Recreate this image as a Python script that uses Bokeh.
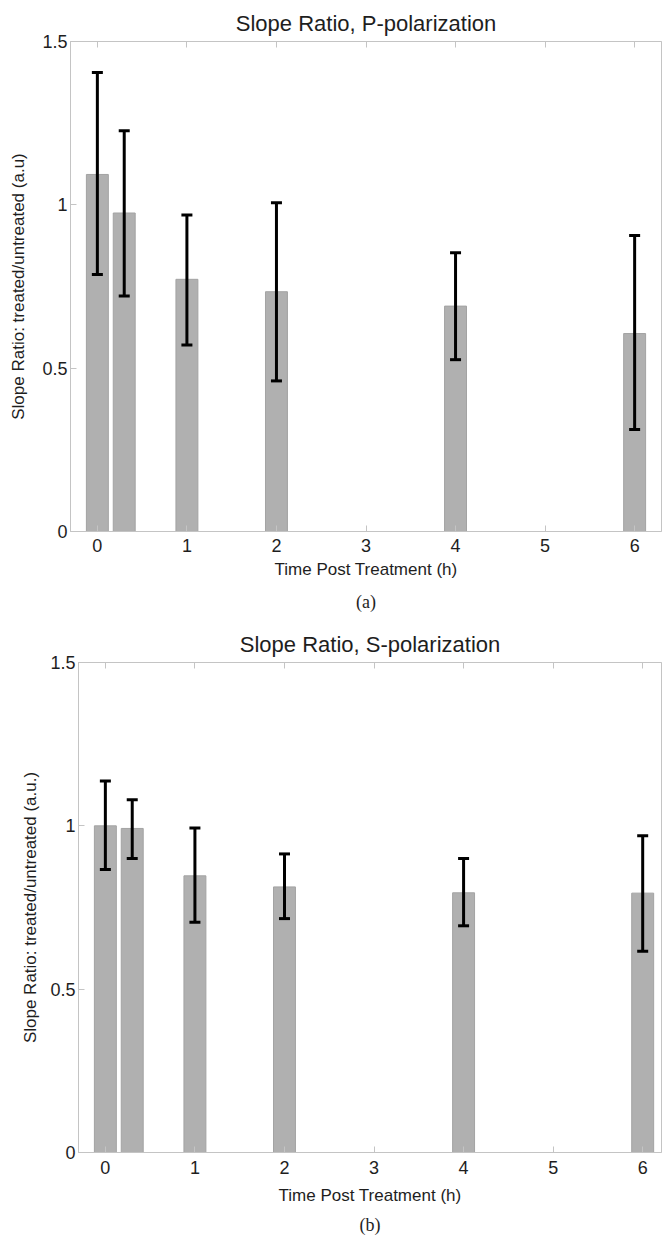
from bokeh.plotting import figure
from bokeh.models import (Range1d, ColumnDataSource, LinearAxis, Title,
                          FixedTicker, CustomJSTickFormatter)
from bokeh.embed import file_html
from bokeh.resources import INLINE

# ---- data ----
time_h = [0, 0.3, 1, 2, 4, 6]

p_mean = [1.093, 0.975, 0.772, 0.734, 0.690, 0.606]
p_upper = [1.405, 1.227, 0.969, 1.006, 0.853, 0.906]
p_lower = [0.787, 0.721, 0.571, 0.461, 0.526, 0.312]

s_mean = [1.000, 0.992, 0.847, 0.813, 0.795, 0.794]
s_upper = [1.137, 1.080, 0.993, 0.914, 0.900, 0.970]
s_lower = [0.866, 0.900, 0.705, 0.716, 0.694, 0.616]

x_ticks = [0, 1, 2, 3, 4, 5, 6]
y_ticks = [0, 0.5, 1, 1.5]
y_tick_labels = ["0", "0.5", "1", "1.5"]

FONT = "Liberation Sans"
TXT = "#1e1e1e"
AX = "#c4c4c4"


def panel(title, ylabel, caption, mean, upper, lower, left, x_end, height, top,
          ylab_standoff, tick_standoff, xlab_standoff, cap_standoff):
    p = figure(width=662, height=height,
               x_range=Range1d(-0.3, x_end), y_range=Range1d(0, 1.5),
               output_backend="svg", toolbar_location=None,
               min_border_left=left, min_border_right=1,
               min_border_top=top, min_border_bottom=height - top - 490)
    p.title.text = title
    p.title.align = "center"
    p.title.text_font = FONT
    p.title.text_font_size = "22px"
    p.title.text_font_style = "normal"
    p.title.text_color = TXT
    p.title.standoff = 12
    p.grid.visible = False
    p.outline_line_color = AX
    p.background_fill_color = "white"
    p.border_fill_color = "white"

    src = ColumnDataSource(dict(x=time_h, top=mean, up=upper, lo=lower))
    p.vbar(x="x", top="top", width=0.245, source=src, fill_color="#b0b0b0",
           line_color="#a3a3a3", line_width=1)
    p.segment(x0="x", y0="lo", x1="x", y1="up", source=src,
              line_color="black", line_width=3)
    p.dash(x="x", y="up", size=11, source=src, line_color="black", line_width=3)
    p.dash(x="x", y="lo", size=11, source=src, line_color="black", line_width=3)

    xa = p.xaxis[0]
    xa.ticker = FixedTicker(ticks=x_ticks)
    xa.axis_label = "Time Post Treatment (h)"
    ya = p.yaxis[0]
    ya.ticker = FixedTicker(ticks=y_ticks)
    ya.major_label_overrides = {t: l for t, l in zip(y_ticks, y_tick_labels)}
    ya.axis_label = ylabel
    for a in (xa, ya):
        a.axis_line_color = AX
        a.major_tick_line_color = AX
        a.major_tick_in = 6
        a.major_tick_out = 0
        a.minor_tick_line_color = None
        a.major_label_text_font = FONT
        a.major_label_text_font_size = "18px"
        a.major_label_text_color = TXT
        a.axis_label_text_font = FONT
        a.axis_label_text_font_size = "17px"
        a.axis_label_text_font_style = "normal"
        a.axis_label_text_color = TXT
    xa.major_label_standoff = tick_standoff
    xa.axis_label_standoff = xlab_standoff
    ya.major_label_standoff = 3
    ya.axis_label_standoff = ylab_standoff

    blank = CustomJSTickFormatter(code="return ''")
    ta = LinearAxis(ticker=FixedTicker(ticks=x_ticks), formatter=blank)
    ta.axis_line_color = AX
    ta.major_tick_line_color = AX
    ta.major_tick_in = 6
    ta.major_tick_out = 0
    ta.minor_tick_line_color = None
    ta.major_label_standoff = 0
    ta.major_label_text_font_size = "1px"
    p.add_layout(ta, "above")

    p.add_layout(Title(text=caption, align="center", text_font="Liberation Serif",
                       text_font_size="18px", text_font_style="normal",
                       standoff=cap_standoff, text_color=TXT), "below")
    return p


p1 = panel("Slope Ratio, P-polarization", "Slope Ratio: treated/untreated (a.u)", "(a)",
           p_mean, p_upper, p_lower, 70, 6.3, 622, 41, 11, 7, 5, 17)
p2 = panel("Slope Ratio, S-polarization", "Slope Ratio: treated/untreated (a.u.)", "(b)",
           s_mean, s_upper, s_lower, 78, 6.21, 619, 40, 7, 8, 9, 11)

open("out.html", "w").write(file_html([p1, p2], INLINE))
